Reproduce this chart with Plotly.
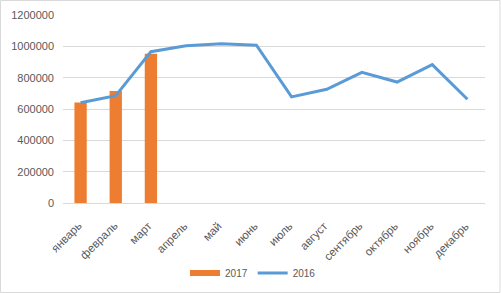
import plotly.graph_objects as go

months = ["январь", "февраль", "март", "апрель", "май", "июнь", "июль",
          "август", "сентябрь", "октябрь", "ноябрь", "декабрь"]
values_2017 = [642000, 715000, 953000]
values_2016 = [640000, 685000, 966000, 1004000, 1017000, 1007000, 677000,
               726000, 834000, 772000, 883000, 662000]
y_ticks = [0, 200000, 400000, 600000, 800000, 1000000, 1200000]

ORANGE = "#ED7D31"
BLUE = "#5B9BD5"
TEXT = "#595959"
PLOT_H = 188
PLOT_W = 422

fig = go.Figure()
fig.add_trace(go.Bar(x=months[:len(values_2017)], y=values_2017, name="2017",
                     marker=dict(color=ORANGE, line=dict(width=0)), width=0.35,
                     legendgroup="2017", showlegend=False))
# legend proxy so the 2017 key is a wide flat bar as in the original
fig.add_trace(go.Scatter(x=[None], y=[None], name="2017", mode="lines",
                         line=dict(color=ORANGE, width=6), legendgroup="2017"))
fig.add_trace(go.Scatter(x=months, y=values_2016, name="2016", mode="lines",
                         line=dict(color=BLUE, width=3)))

# category labels, rotated, with their top-right corner just right of each tick
annotations = [dict(x=m, xref="x", y=-14 / PLOT_H, yref="paper", text=m,
                    textangle=-45, xanchor="right", yanchor="top", xshift=6,
                    showarrow=False, font=dict(size=11.5, color=TEXT))
               for m in months]

fig.update_layout(
    width=501, height=293,
    margin=dict(l=63, r=16, t=15, b=90, autoexpand=False),
    paper_bgcolor="white", plot_bgcolor="white",
    font=dict(family="Liberation Sans, Arial, sans-serif", size=11, color=TEXT),
    showlegend=True,
    legend=dict(orientation="h", x=0.505, xref="container", xanchor="center",
                y=1 - 273 / 293, yref="container", yanchor="middle",
                font=dict(size=10, color=TEXT), traceorder="normal",
                itemwidth=30, tracegroupgap=0),
    annotations=annotations,
    shapes=[dict(type="rect", xref="paper", yref="paper",
                 x0=-62.5 / PLOT_W, x1=1 + 15 / PLOT_W,
                 y0=-89.5 / PLOT_H, y1=1 + 14.5 / PLOT_H,
                 line=dict(color="#D9D9D9", width=1))],
)
fig.update_xaxes(categoryorder="array", categoryarray=months, showticklabels=False,
                 range=[-0.5, len(months) - 0.5], autorange=False,
                 showgrid=False, showline=False, ticks="", automargin=False)
fig.update_yaxes(range=[0, 1200000], tickvals=y_ticks, tickformat="d",
                 showgrid=True, gridcolor="#D9D9D9", gridwidth=1,
                 zeroline=True, zerolinecolor="#D9D9D9", zerolinewidth=1,
                 showline=False, ticks="", ticklabelstandoff=8, automargin=False,
                 tickfont=dict(size=11))

fig.write_html("out.html", config={"displayModeBar": False, "responsive": False},
               post_script="document.body.style.margin='0';document.body.style.overflow='hidden';")
